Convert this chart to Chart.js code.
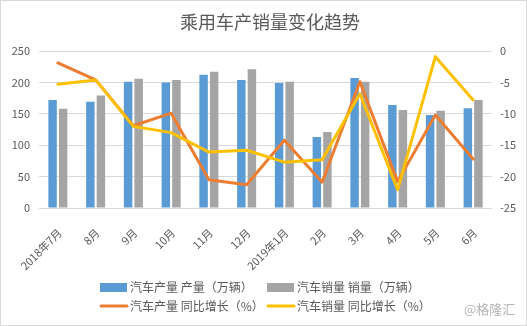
<!DOCTYPE html>
<html>
<head>
<meta charset="utf-8">
<script src="https://cdn.jsdelivr.net/npm/chart.js@4/dist/chart.umd.min.js"></script>
<style>
  html, body { margin: 0; padding: 0; background: #fff; }
  canvas { display: block; }
</style>
</head>
<body>
<canvas id="chart" width="527" height="326"></canvas>
<script>
// Values
const months = ["2018年7月", "8月", "9月", "10月", "11月", "12月", "2019年1月", "2月", "3月", "4月", "5月", "6月"];
const prodVolume = [172, 169, 201, 200, 212, 204, 199, 113, 207, 164, 148, 159];
const salesVolume = [158, 179, 206, 204, 217, 221, 201, 121, 201, 156, 155, 172];
const prodGrowth = [-1.9, -4.6, -11.9, -9.9, -20.5, -21.3, -14.2, -20.9, -4.9, -20.8, -10.2, -17.2];
const salesGrowth = [-5.3, -4.6, -12.0, -13.0, -16.1, -15.8, -17.7, -17.3, -6.8, -22.1, -0.9, -7.8];

const FONT = '"Noto Sans CJK SC", "Noto Sans", sans-serif';
const TEXT = "#595959";

// Title, 2x2 legend grid, watermark and frame drawn on the canvas
const decorations = {
    id: "decorations",
    afterDraw(chart) {
        const ctx = chart.ctx;
        const ds = chart.data.datasets;
        ctx.save();
        ctx.strokeStyle = "#d9d9d9";
        ctx.lineWidth = 1;
        ctx.strokeRect(0.5, 0.5, chart.width - 1, chart.height - 1);

        ctx.fillStyle = TEXT;
        ctx.textAlign = "center";
        ctx.textBaseline = "middle";
        ctx.font = "18px " + FONT;
        ctx.fillText("乘用车产销量变化趋势", 270, 22);

        // legend: columns at x=100 and x=267, rows at y=287.5 and y=306
        const cols = [100, 267];
        const rows = [287.5, 306];
        ctx.font = "12px " + FONT;
        ctx.textAlign = "left";
        ds.forEach((d, i) => {
            const x = cols[i % 2];
            const y = rows[Math.floor(i / 2)];
            if (d.type === "line") {
                ctx.strokeStyle = d.borderColor;
                ctx.lineWidth = 3;
                ctx.lineCap = "round";
                ctx.beginPath();
                ctx.moveTo(x + 1, y);
                ctx.lineTo(x + 27, y);
                ctx.stroke();
            } else {
                ctx.fillStyle = d.backgroundColor;
                ctx.fillRect(x, y - 4.5, 27, 9);
            }
            ctx.fillStyle = TEXT;
            ctx.fillText(d.label, x + 30, y);
        });

        ctx.fillStyle = "#b4b4b4";
        ctx.font = "13px " + FONT;
        ctx.fillText("@格隆汇", 464, 309);
        ctx.restore();
    }
};

new Chart(document.getElementById("chart"), {
    data: {
        labels: months,
        datasets: [
            {
                type: "bar",
                label: "汽车产量 产量（万辆）",
                data: prodVolume,
                backgroundColor: "#5b9bd5",
                yAxisID: "y",
                order: 2,
                categoryPercentage: 0.56,
                barPercentage: 0.8
            },
            {
                type: "bar",
                label: "汽车销量 销量（万辆）",
                data: salesVolume,
                backgroundColor: "#a5a5a5",
                yAxisID: "y",
                order: 2,
                categoryPercentage: 0.56,
                barPercentage: 0.8
            },
            {
                type: "line",
                label: "汽车产量 同比增长（%）",
                data: prodGrowth,
                borderColor: "#ed7d31",
                backgroundColor: "#ed7d31",
                borderWidth: 3,
                pointRadius: 0,
                tension: 0,
                borderJoinStyle: "round",
                borderCapStyle: "round",
                yAxisID: "y1",
                order: 1
            },
            {
                type: "line",
                label: "汽车销量 同比增长（%）",
                data: salesGrowth,
                borderColor: "#ffc000",
                backgroundColor: "#ffc000",
                borderWidth: 3,
                pointRadius: 0,
                tension: 0,
                borderJoinStyle: "round",
                borderCapStyle: "round",
                yAxisID: "y1",
                order: 0
            }
        ]
    },
    options: {
        responsive: false,
        animation: false,
        layout: { padding: { top: 51, left: 0, right: 0, bottom: 0 } },
        plugins: {
            legend: { display: false },
            title: { display: false },
            tooltip: { enabled: false }
        },
        scales: {
            x: {
                grid: { display: false, drawTicks: false },
                border: { display: false },
                ticks: {
                    color: TEXT,
                    font: { family: FONT, size: 11 },
                    minRotation: 45,
                    maxRotation: 45,
                    padding: 18,
                    labelOffset: 2,
                    autoSkip: false
                },
                afterFit: scale => { scale.height = 118; }
            },
            y: {
                position: "left",
                min: 0,
                max: 250,
                grid: { color: "#d9d9d9", drawTicks: false },
                border: { display: false },
                ticks: {
                    stepSize: 50,
                    color: TEXT,
                    font: { family: FONT, size: 11 },
                    padding: 9
                },
                afterFit: scale => { scale.width = 39; }
            },
            y1: {
                position: "right",
                min: -25,
                max: 0,
                grid: { display: false, drawTicks: false },
                border: { display: false },
                ticks: {
                    stepSize: 5,
                    color: TEXT,
                    font: { family: FONT, size: 11 },
                    padding: 8
                },
                afterFit: scale => { scale.width = 35; }
            }
        }
    },
    plugins: [decorations]
});
</script>
</body>
</html>
